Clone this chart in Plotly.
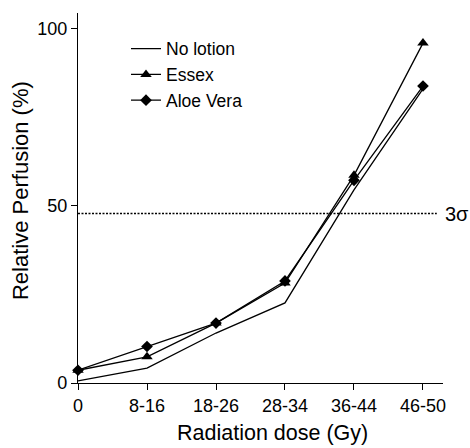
import plotly.graph_objects as go

categories = ["0", "8-16", "18-26", "28-34", "36-44", "46-50"]
no_lotion = [0.6, 4.2, 14.1, 22.6, 54.5, 83.0]
essex = [3.6, 7.4, 16.9, 28.2, 58.6, 95.9]
aloe_vera = [3.6, 10.3, 16.9, 28.8, 57.2, 83.8]
threshold = 47.8
threshold_label = "3σ"
y_ticks = [0, 50, 100]

FONT = "Liberation Sans, Arial, sans-serif"
BLACK = "#000000"

fig = go.Figure()
fig.add_trace(go.Scatter(
    x=categories, y=no_lotion, name="No lotion", mode="lines",
    line=dict(color=BLACK, width=1.3), cliponaxis=False))
fig.add_trace(go.Scatter(
    x=categories, y=essex, name="Essex", mode="lines+markers",
    line=dict(color=BLACK, width=1.3),
    marker=dict(symbol="triangle-up", size=10, color=BLACK), cliponaxis=False))
fig.add_trace(go.Scatter(
    x=categories, y=aloe_vera, name="Aloe Vera", mode="lines+markers",
    line=dict(color=BLACK, width=1.3),
    marker=dict(symbol="diamond", size=9, color=BLACK), cliponaxis=False))

fig.add_shape(type="line", xref="x", yref="y", x0=0, x1=5.2, y0=threshold, y1=threshold,
              line=dict(color=BLACK, width=1.5, dash="2px,1.5px"))
fig.add_annotation(xref="paper", yref="y", x=1.0, y=threshold, text=threshold_label,
                   showarrow=False, xanchor="left", yanchor="middle",
                   font=dict(family=FONT, size=20, color=BLACK))

fig.add_annotation(xref="paper", yref="paper", x=0.534, y=-0.135, text="Radiation dose (Gy)",
                   showarrow=False, xanchor="center", yanchor="middle",
                   font=dict(family=FONT, size=21.5, color=BLACK))
fig.add_annotation(xref="paper", yref="paper", x=-0.156, y=0.519, text="Relative Perfusion (%)",
                   showarrow=False, xanchor="center", yanchor="middle", textangle=-90,
                   font=dict(family=FONT, size=22, color=BLACK))

fig.update_layout(
    width=470, height=448,
    margin=dict(l=78, r=27, t=13, b=65),
    paper_bgcolor="white", plot_bgcolor="white",
    font=dict(family=FONT, size=18, color=BLACK),
    showlegend=True,
    legend=dict(x=0.1315, y=0.952, xanchor="left", yanchor="top",
                font=dict(family=FONT, size=17.5, color=BLACK),
                bgcolor="rgba(0,0,0,0)", tracegroupgap=0),
    xaxis=dict(type="category", range=[0, 5.29], showline=True, linecolor=BLACK, linewidth=1.3,
               ticks="outside", ticklen=6, tickwidth=1.3, tickcolor=BLACK,
               showgrid=False, zeroline=False, tickfont=dict(size=18)),
    yaxis=dict(range=[0, 104.4], showline=True, linecolor=BLACK, linewidth=1.3,
               ticks="outside", ticklen=6, tickwidth=1.3, tickcolor=BLACK,
               ticksuffix="\u00a0",
               tickvals=y_ticks, showgrid=False, zeroline=False, tickfont=dict(size=18)),
)

fig.write_html("out.html")
